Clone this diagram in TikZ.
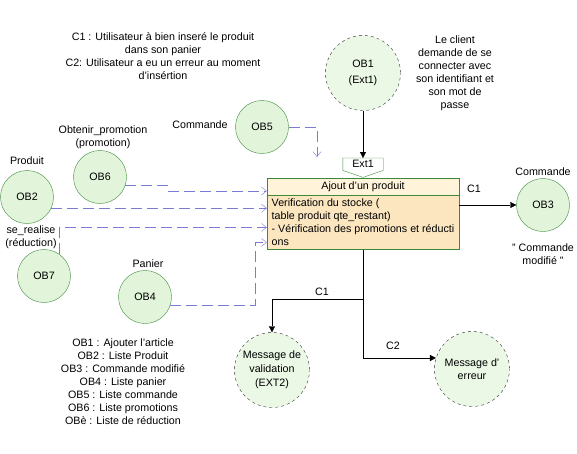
\documentclass[tikz,border=0pt]{standalone}
\usepackage{fontspec}
\setmainfont{Liberation Sans}
\usetikzlibrary{arrows.meta, positioning, calc}
\definecolor{obfill}{HTML}{E2F5DB}
\definecolor{obline}{HTML}{3A8A3A}
\definecolor{headfill}{HTML}{FFF4DA}
\definecolor{bodyfill}{HTML}{FBE6C0}
\definecolor{flowline}{HTML}{7B7BD6}

\begin{document}
\begin{tikzpicture}[x=1pt, y=-1pt,
		every node/.style={font=\fontsize{10.7}{13}\selectfont, inner sep=0pt},
		ob/.style={circle, draw=obline, fill=obfill, minimum size=53pt},
		extob/.style={circle, draw=black!80, dashed, fill=obfill!70, minimum size=75pt, align=center},
		flow/.style={draw=flowline, dash pattern=on 11pt off 5pt, -{Straight Barb[length=5pt, width=8pt]}},
		flux/.style={-{Triangle[length=6pt, width=6pt]}}]
		\useasboundingbox(0, 0)rectangle(577, 453);
		\node[align=center](cond)at(163, 56.5){C1 : Utilisateur à bien inseré le produit\\dans son panier\\C2: Utilisateur a eu un erreur au moment\\d'insértion};
		\node[extob](ob1)at(363, 73){OB1\\[3pt](Ext1)};
		\node[align=center](client)at(455, 73.5){Le client\\demande de se\\connecter avec\\son identifiant et\\son mot de\\passe};
		\node[minimum width=40pt, minimum height=12pt, anchor=north](ext1)at(363, 158){Ext1};
		\draw[obline](ext1.north west)--(ext1.north east)--(ext1.south east)--($(ext1.south)+(0, 7)$)--(ext1.south west)--cycle;
		\node[draw=obline, fill=headfill, minimum width=192pt, minimum height=17pt](head)at(363, 186.5){Ajout d'un produit};
		\node[draw=obline, fill=bodyfill, minimum width=192pt, minimum height=54pt, align=left, below=0pt of head](body){Verification du stocke (\\table produit qte\_restant)\\- Vérification des promotions et réducti\\ons};
		\node[ob](ob3)at(543, 205){OB3};
		\node(ob3name)at(543, 172){Commande};
		\node[align=center](ob3note)at(543, 254){" Commande\\modifié "};
		\node[ob](ob5)at(262, 127){OB5};
		\node(ob5name)at(200, 125){Commande};
		\node[ob](ob6)at(100, 177){OB6};
		\node[align=center](ob6name)at(103, 137.5){Obtenir\_promotion\\(promotion)};
		\node[ob](ob2)at(27, 197){OB2};
		\node(ob2name)at(27, 161){Produit};
		\node[ob](ob7)at(44, 276){OB7};
		\node[align=center](ob7name)at(31, 237.5){se\_realise\\(réduction)};
		\node[ob](ob4)at(145, 297){OB4};
		\node(ob4name)at(148, 264){Panier};
		\node[extob](val)at(272, 370){Message de\\[1pt]validation\\[1pt](EXT2)};
		\node[extob](err)at(472, 369){Message d'\\erreur};
		\node[align=center](legend)at(123, 382){OB1 : Ajouter l'article\\OB2 : Liste Produit\\OB3 : Commande modifié\\OB4 : Liste panier\\OB5 : Liste commande\\OB6 : Liste promotions\\OBè : Liste de réduction};
		\draw[flux](ob1)--(ext1.north);
		\draw[flux](body.east |- ob3)--(ob3);
		\node(c1a)at(474, 189){C1};
		\coordinate(split)at($(body.south)+(0, 50)$);
		\draw(body.south)--(split);
		\draw[flux](split)-|(val);
		\draw[flux](split)|-(err.163);
		\node(c1b)at(322, 292){C1};
		\node(c2)at(393, 346){C2};
		\coordinate(ob5end)at(317, 157);
		\draw[flow](ob5)-|(ob5end);
		\draw[flow](ob6.-19.5)--++(43, 0)|-($(head.west)+(0, 4.5)$);
		\draw[flow](ob2.-25)--(body.west |- ob2.-25);
		\draw[flow](ob7.54)|-($(body.west)+(0, 5)$);
		\draw[flow](ob4.-18)-|($(body.west)+(-12, 20)$)--($(body.west)+(0, 20)$);
	\end{tikzpicture}
\end{document}
